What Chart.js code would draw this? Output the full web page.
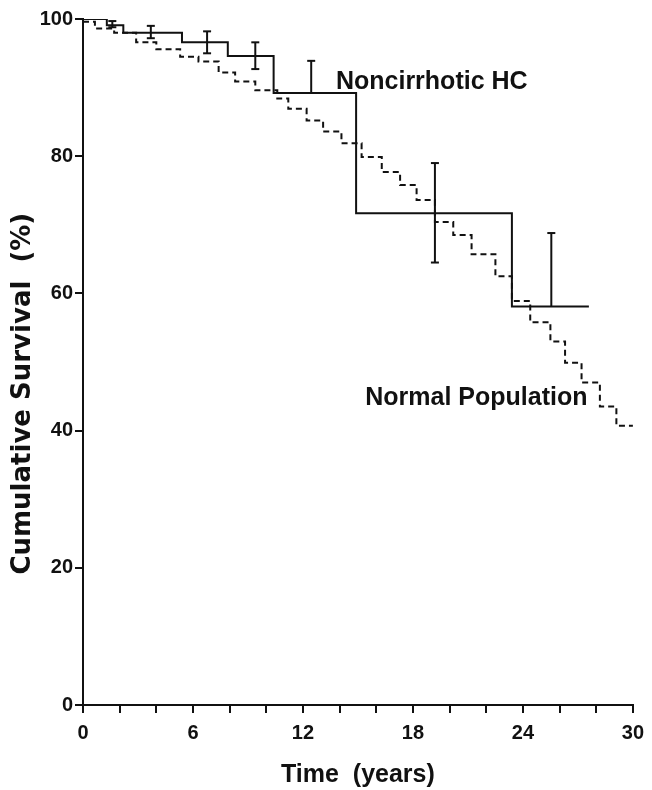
<!DOCTYPE html>
<html>
<head>
<meta charset="utf-8">
<script src="https://cdn.jsdelivr.net/npm/chart.js@4.4.0/dist/chart.umd.min.js"></script>
<style>
  html, body { margin: 0; padding: 0; background: #fff; }
</style>
</head>
<body>
<canvas id="grafica" width="652" height="790"></canvas>
<script>
// Noncirrhotic HC (Kaplan-Meier, solid line)
const hcTiempo = [0, 1.3, 2.2, 5.4, 7.9, 10.4, 14.9, 23.4, 27.6];
const hcSupervivencia = [100, 99.1, 98.0, 96.6, 94.6, 89.2, 71.7, 58.1, 58.1];

// error bars on the HC curve
const errTiempo = [1.6, 3.7, 6.77, 9.4, 12.45, 19.2, 25.55];
const errBajo = [98.8, 97.2, 95.0, 92.7, 89.2, 64.5, 58.1];
const errAlto = [99.7, 99.0, 98.2, 96.6, 93.9, 79.0, 68.8];
const errCapaBaja = [true, true, true, true, false, true, false];

// Normal population (dashed line)
const normTiempo = [0, 0.65, 1.7, 2.9, 4.0, 5.3, 6.3, 7.4, 8.3, 9.4, 10.6, 11.2, 12.2, 13.1, 14.1, 15.2,
  16.3, 17.3, 18.2, 19.2, 20.2, 21.2, 22.5, 23.4, 24.4, 25.5, 26.3, 27.2, 28.2, 29.1, 30.0];
const normSupervivencia = [99.6, 98.6, 98.0, 96.6, 95.6, 94.5, 93.8, 92.2, 90.9, 89.6, 88.4, 86.9, 85.2, 83.6, 81.9, 79.9,
  77.7, 75.8, 73.6, 70.4, 68.5, 65.7, 62.5, 58.9, 55.8, 53.0, 49.9, 47.0, 43.5, 40.7, 40.7];

const xTicks = [0, 6, 12, 18, 24, 30];
const yTicks = [0, 20, 40, 60, 80, 100];

const notas = [
  { texto: "Noncirrhotic HC", x: 13.8, y: 90.8 },
  { texto: "Normal Population", x: 15.4, y: 44.8 },
];

const fuente = '"Liberation Sans", Arial, Helvetica, sans-serif';
const fuenteAncha = '"DejaVu Sans", Verdana, sans-serif';
const negro = "#111";

const aPuntos = (xs, ys) => xs.map((x, i) => ({ x, y: ys[i] }));

const datasets = [
  {
    label: "Normal Population",
    data: aPuntos(normTiempo, normSupervivencia),
    borderColor: negro,
    borderWidth: 2,
    borderDash: [6, 4],
    stepped: "before",
    pointRadius: 0,
    fill: false,
  },
  {
    label: "Noncirrhotic HC",
    data: aPuntos(hcTiempo, hcSupervivencia),
    borderColor: negro,
    borderWidth: 2,
    stepped: "before",
    pointRadius: 0,
    fill: false,
  },
];

errTiempo.forEach((t, i) => {
  datasets.push({
    label: "err" + i,
    data: [{ x: t, y: errBajo[i] }, { x: t, y: errAlto[i] }],
    borderColor: negro,
    borderWidth: 2,
    pointStyle: "line",
    pointRadius: [errCapaBaja[i] ? 4 : 0, 4],
    pointBorderColor: negro,
    pointBorderWidth: 2,
    fill: false,
  });
});

const etiquetas = {
  id: "etiquetas",
  afterDatasetsDraw(chart) {
    const { ctx, scales: { x, y } } = chart;
    ctx.save();
    ctx.font = "bold 25px " + fuente;
    ctx.fillStyle = negro;
    ctx.textBaseline = "middle";
    ctx.textAlign = "left";
    notas.forEach((n) => ctx.fillText(n.texto, x.getPixelForValue(n.x), y.getPixelForValue(n.y)));
    ctx.restore();
  },
};

const ejeComun = {
  grid: { drawOnChartArea: false, drawTicks: true, tickLength: 8, color: negro, lineWidth: 2 },
  border: { display: true, color: negro, width: 2 },
};

new Chart(document.querySelector("#grafica"), {
  type: "line",
  data: { datasets },
  plugins: [etiquetas],
  options: {
    responsive: false,
    animation: false,
    layout: { padding: { top: 19, right: 15, left: 0, bottom: 0 } },
    plugins: { legend: { display: false }, tooltip: { enabled: false } },
    scales: {
      x: {
        ...ejeComun,
        type: "linear",
        min: 0,
        max: 30,
        ticks: {
          stepSize: 2,
          autoSkip: false,
          maxRotation: 0,
          padding: 8,
          color: negro,
          font: { family: fuente, size: 20, weight: "bold" },
          callback: (v) => (xTicks.includes(v) ? v : ""),
        },
        title: {
          display: true,
          text: "Time  (years)",
          color: negro,
          font: { family: fuente, size: 25, weight: "bold", lineHeight: 1.2 },
          padding: { top: 0, bottom: 0 },
        },
        afterFit: (s) => { s.height = 85; },
      },
      y: {
        ...ejeComun,
        type: "linear",
        min: 0,
        max: 100,
        ticks: {
          stepSize: 20,
          padding: 2,
          color: negro,
          font: { family: fuente, size: 20, weight: "bold" },
          callback: (v) => (yTicks.includes(v) ? v : ""),
        },
        title: {
          display: true,
          text: "Cumulative Survival  (%)\u00a0\u00a0\u00a0\u00a0\u00a0\u00a0\u00a0",
          color: negro,
          font: { family: fuenteAncha, size: 26, weight: "bold", lineHeight: 1.2 },
          padding: { top: 8, bottom: 0 },
        },
        afterFit: (s) => { s.width = 83; },
      },
    },
  },
});
</script>
</body>
</html>
